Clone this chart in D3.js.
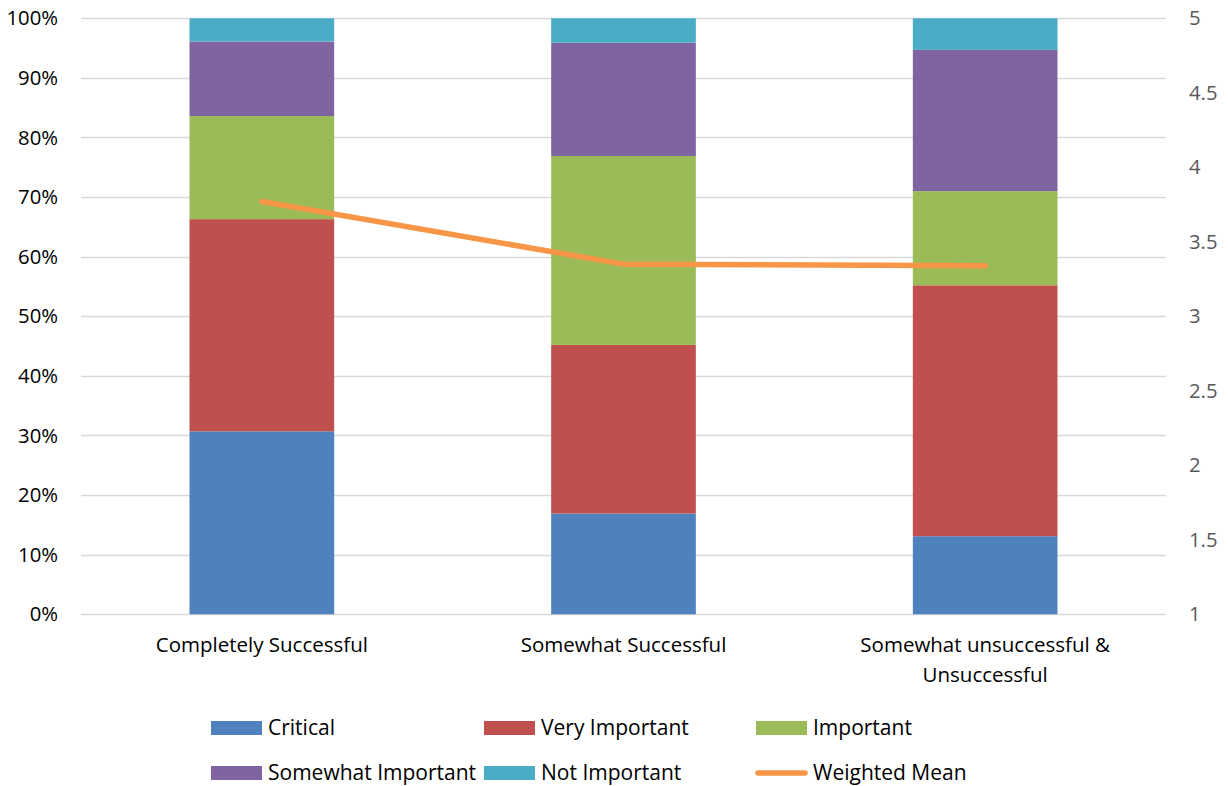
<!DOCTYPE html>
<html>
<head>
<meta charset="utf-8">
<script src="https://cdn.jsdelivr.net/npm/d3@7"></script>
<style>
  html, body { margin: 0; padding: 0; background: #fff; }
  svg { display: block; font-family: "Open Sans", Lato, "Liberation Sans", sans-serif; }
</style>
</head>
<body>
<svg id="chart" width="1228" height="786"></svg>
<script>
// Survey outcome groups
const categories = [
  ["Completely Successful"],
  ["Somewhat Successful"],
  ["Somewhat unsuccessful &", "Unsuccessful"]
];

// Share of responses per importance rating (percent)
const seriesNames = ["Critical", "Very Important", "Important", "Somewhat Important", "Not Important"];
const critical          = [30.7, 16.9, 13.1];
const veryImportant     = [35.6, 28.3, 42.1];
const important         = [17.3, 31.7, 15.8];
const somewhatImportant = [12.5, 19.0, 23.7];
const notImportant      = [3.9, 4.1, 5.3];

// Weighted mean rating per group (right axis, 1–5)
const weightedMean = [3.77, 3.35, 3.34];

const leftTicks  = [0, 10, 20, 30, 40, 50, 60, 70, 80, 90, 100];
const rightTicks = [1, 1.5, 2, 2.5, 3, 3.5, 4, 4.5, 5];

const colors = ["#4F81BD", "#C0504D", "#9BBB59", "#8064A2", "#4BACC6"];
const lineColor = "#F79646";
const FONT = '"Open Sans", Lato, "Liberation Sans", sans-serif';

const svg = d3.select("#chart");
const plot = { left: 81, right: 1166, top: 18.3, bottom: 614.3 };

const x = d3.scaleBand()
  .domain(d3.range(categories.length))
  .range([plot.left, plot.right])
  .paddingInner(0.6)
  .paddingOuter(0.3);

const yL = d3.scaleLinear().domain([0, 100]).range([plot.bottom, plot.top]);
const yR = d3.scaleLinear().domain([1, 5]).range([plot.bottom, plot.top]);

// Gridlines
svg.append("g")
  .selectAll("line")
  .data(leftTicks)
  .join("line")
  .attr("x1", plot.left).attr("x2", plot.right)
  .attr("y1", d => Math.round(yL(d)) + 0.5).attr("y2", d => Math.round(yL(d)) + 0.5)
  .attr("stroke", "#d9d9d9").attr("stroke-width", 1.3);

// Left axis (percent)
const leftAxis = d3.axisLeft(yL).tickValues(leftTicks).tickFormat(d => d + "%").tickSize(0).tickPadding(0);
svg.append("g")
  .attr("transform", `translate(58,0)`)
  .call(leftAxis)
  .attr("font-family", FONT)
  .attr("font-size", 20.3)
  .call(g => g.select(".domain").remove())
  .call(g => g.selectAll("text").attr("fill", "#000"));

// Right axis (mean rating)
const rightAxis = d3.axisRight(yR).tickValues(rightTicks).tickFormat(d3.format("")).tickSize(0).tickPadding(0);
svg.append("g")
  .attr("transform", `translate(1189,0)`)
  .call(rightAxis)
  .attr("font-family", FONT)
  .attr("font-size", 20.3)
  .call(g => g.select(".domain").remove())
  .call(g => g.selectAll("text").attr("fill", "#595959"));

// Stacked bars
const rows = categories.map((c, i) => ({
  i,
  "Critical": critical[i],
  "Very Important": veryImportant[i],
  "Important": important[i],
  "Somewhat Important": somewhatImportant[i],
  "Not Important": notImportant[i]
}));
const stacked = d3.stack().keys(seriesNames)(rows);

svg.append("g")
  .selectAll("g")
  .data(stacked)
  .join("g")
  .attr("fill", (d, k) => colors[k])
  .selectAll("rect")
  .data(d => d)
  .join("rect")
  .attr("x", d => x(d.data.i))
  .attr("width", x.bandwidth())
  .attr("y", d => yL(d[1]))
  .attr("height", d => yL(d[0]) - yL(d[1]));

// Weighted mean line
const line = d3.line()
  .x((d, i) => x(i) + x.bandwidth() / 2)
  .y(d => yR(d));
svg.append("path")
  .datum(weightedMean)
  .attr("d", line)
  .attr("fill", "none")
  .attr("stroke", lineColor)
  .attr("stroke-width", 5.5)
  .attr("stroke-linecap", "round")
  .attr("stroke-linejoin", "round");

// Category labels
const catG = svg.append("g");
categories.forEach((lines, i) => {
  const t = catG.append("text")
    .attr("x", x(i) + x.bandwidth() / 2)
    .attr("y", 652)
    .attr("text-anchor", "middle")
    .attr("font-size", 20.5)
    .attr("fill", "#000");
  lines.forEach((s, j) => t.append("tspan")
    .attr("x", x(i) + x.bandwidth() / 2)
    .attr("dy", j === 0 ? 0 : 30)
    .text(s));
});

// Legend
const legendItems = seriesNames.map((n, k) => ({ name: n, color: colors[k], type: "rect" }))
  .concat([{ name: "Weighted Mean", color: lineColor, type: "line" }]);
const colX = [211, 484, 756];
const rowY = [728, 773];
const legend = svg.append("g");
legendItems.forEach((d, k) => {
  const cx = colX[k % 3], cy = rowY[Math.floor(k / 3)];
  if (d.type === "rect") {
    legend.append("rect")
      .attr("x", cx).attr("y", cy - 7)
      .attr("width", 51).attr("height", 14)
      .attr("fill", d.color);
  } else {
    legend.append("line")
      .attr("x1", cx + 2).attr("x2", cx + 49)
      .attr("y1", cy).attr("y2", cy)
      .attr("stroke", d.color).attr("stroke-width", 5.5)
      .attr("stroke-linecap", "round");
  }
  legend.append("text")
    .attr("x", cx + 57).attr("y", cy)
    .attr("dy", "0.35em")
    .attr("font-size", 21)
    .attr("fill", "#000")
    .text(d.name);
});
</script>
</body>
</html>
